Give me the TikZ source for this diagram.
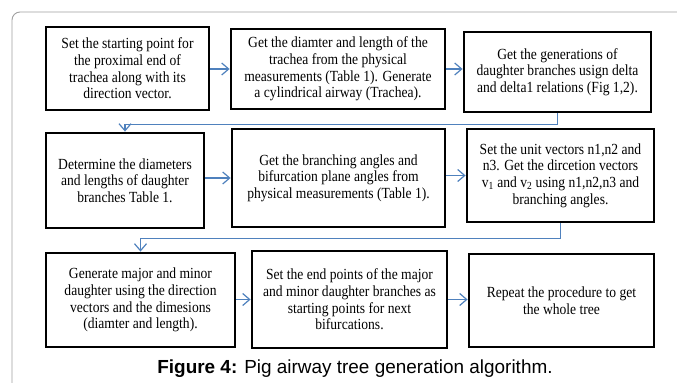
\documentclass[tikz,border=0pt]{standalone}
\usepackage{fontspec}
\setmainfont{Liberation Serif}[FakeStretch=0.88]
\newfontfamily\capfont{Liberation Sans}
\usepackage{xcolor}
\definecolor{cFlow}{HTML}{4F81BD}
\definecolor{cFrame}{HTML}{A0A0A0}
\usepackage{tikz}
\usetikzlibrary{positioning,arrows.meta,calc}
\tikzset{
  step-box/.style={draw=black,line width=2.8bp,align=center,
    font=\fontsize{15.5}{16.7}\selectfont,inner sep=2bp},
  arrow/.style={-{Straight Barb[length=7bp,width=12bp,line width=1.2bp]},
    line width=1.2bp,draw=cFlow},
}
\begin{document}
\begin{tikzpicture}[x=1bp,y=-1bp]
  \useasboundingbox (0,0) rectangle (677,382);
  % frame of the figure, cut off at right and bottom
  \begin{scope}
    \clip (0,0) rectangle (677,382);
    \draw[cFrame,line width=0.9bp,rounded corners=8bp] (12,400) -- (12,12) -- (700,12);
  \end{scope}
  % row 1
  \node[step-box,minimum width=163bp,minimum height=83bp] (start) at (127.5,68.5)
    {Set the starting point for\\the proximal end of\\trachea along with its\\direction vector.};
  \node[step-box,minimum width=214bp,minimum height=80bp] (trachea) at (338,69)
    {Get the diamter and length of the\\trachea from the physical\\measurements (Table 1). Generate\\a cylindrical airway (Trachea).};
  \node[step-box,minimum width=187bp,minimum height=80bp] (gen) at (557.5,72)
    {Get the generations of\\daughter branches usign delta\\and delta1 relations (Fig 1,2).};
  % row 2
  \node[step-box,minimum width=158bp,minimum height=95bp] (diam) at (125,180.5)
    {Determine the diameters\\and lengths of daughter\\branches Table 1.};
  \node[step-box,minimum width=213bp,minimum height=98bp] (angles) at (338.5,178)
    {Get the branching angles and\\bifurcation plane angles from\\physical measurements (Table 1).};
  \node[step-box,minimum width=187bp,minimum height=93bp] (units) at (560.5,175.5)
    {Set the unit vectors n1,n2 and\\n3. Get the dircetion vectors\\v\textsubscript{1} and v\textsubscript{2} using n1,n2,n3 and\\branching angles.};
  % row 3
  \node[step-box,minimum width=189bp,minimum height=94bp] (daughters) at (140.5,300)
    {Generate major and minor\\daughter using the direction\\vectors and the dimesions\\(diamter and length).};
  \node[step-box,minimum width=195bp,minimum height=97bp] (ends) at (349.5,299.5)
    {Set the end points of the major\\and minor daughter branches as\\starting points for next\\bifurcations.};
  \node[step-box,minimum width=185bp,minimum height=93bp] (repeat) at (561.5,300.5)
    {Repeat the procedure to get\\the whole tree};
  % caption
  \node[font=\capfont\fontsize{19}{22}\selectfont,anchor=base] (caption) at (355,373.5)
    {\textbf{Figure 4:} Pig airway tree generation algorithm.};
  % arrows
  \draw[arrow] (start.east |- trachea.west) -- (trachea.west);
  \draw[arrow] (trachea.east) -- (trachea.east -| gen.west);
  \draw[arrow] (gen.south) -- ++(0,11) -| (diam.north);
  \draw[arrow] (diam.east |- angles.west) -- (angles.west);
  \draw[arrow] (angles.east |- units.west) -- (units.west);
  \draw[arrow] (units.south) -- ++(0,15) -| (daughters.north);
  \draw[arrow] (daughters.east |- ends.west) -- (ends.west);
  \draw[arrow] (ends.east) -- (ends.east -| repeat.west);
\end{tikzpicture}
\end{document}
